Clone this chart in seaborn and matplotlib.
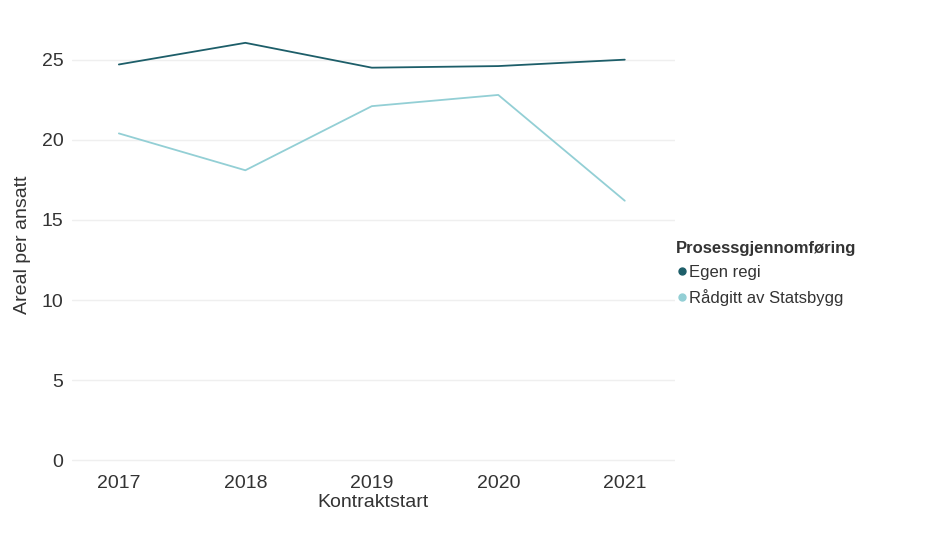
import pandas as pd
import matplotlib.pyplot as plt
import seaborn as sns
from matplotlib.lines import Line2D

years = [2017, 2018, 2019, 2020, 2021]
egen_regi = [24.7, 26.05, 24.5, 24.6, 25.0]
raadgitt = [20.4, 18.1, 22.1, 22.8, 16.2]
groups = ["Egen regi", "Rådgitt av Statsbygg"]
colors = ["#1d5e69", "#93cfd5"]

df = pd.DataFrame({
    "Kontraktstart": years * 2,
    "Areal per ansatt": egen_regi + raadgitt,
    "Prosessgjennomføring": [groups[0]] * 5 + [groups[1]] * 5,
})

sns.set_theme(style="white")
plt.rcParams["font.family"] = ["Liberation Sans", "DejaVu Sans"]

fig = plt.figure(figsize=(9.45, 5.35), dpi=100)
ax = fig.add_axes([0.076, 0.1364, 0.638, 0.812])

sns.lineplot(data=df, x="Kontraktstart", y="Areal per ansatt",
             hue="Prosessgjennomføring", palette=dict(zip(groups, colors)),
             linewidth=1.3, ax=ax, legend=False)

ax.set_xlim(2016.628, 2021.395)
ax.set_ylim(-0.1, 27)
ax.set_xticks(years)
ax.set_xticklabels([str(y) for y in years])
ax.set_yticks([0, 5, 10, 15, 20, 25])
ax.grid(axis="y", color="#efefef", linewidth=1)
ax.grid(axis="x", visible=False)
for s in ax.spines.values():
    s.set_visible(False)
ax.tick_params(axis="x", length=0, labelsize=14, colors="#333333", pad=9)
ax.tick_params(axis="y", length=0, labelsize=14, colors="#333333", pad=6)
ax.set_xlabel("Kontraktstart", fontsize=14, color="#333333", labelpad=2)
ax.set_ylabel("Areal per ansatt", fontsize=14, color="#333333", labelpad=8)

handles = [Line2D([], [], marker="o", linestyle="", markersize=5, color=c) for c in colors]
leg = fig.legend(handles, groups, title="Prosessgjennomføring", loc="upper left",
                 bbox_to_anchor=(0.708, 0.562), frameon=False, fontsize=12,
                 title_fontsize=12, handletextpad=0.05, handlelength=0.75,
                 labelspacing=0.55, alignment="left", borderaxespad=0)
leg.get_title().set_fontweight("bold")
leg.get_title().set_color("#333333")
for t in leg.get_texts():
    t.set_color("#333333")

fig.savefig("out.png", dpi=100)
